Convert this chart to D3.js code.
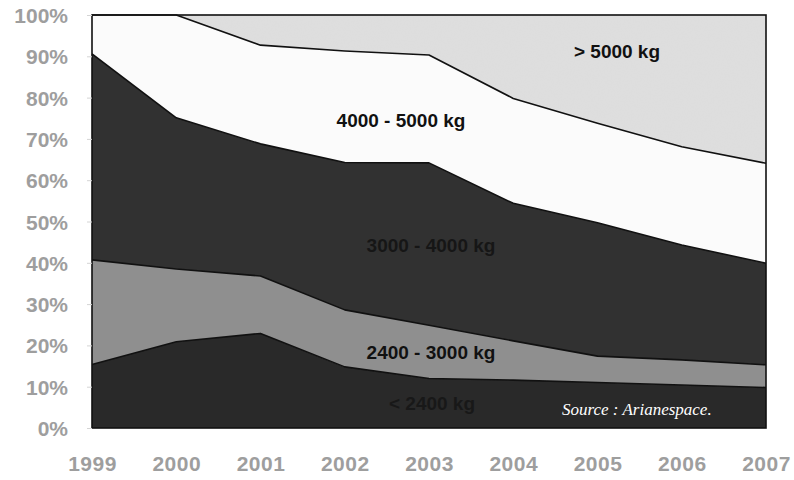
<!DOCTYPE html>
<html>
<head>
<meta charset="utf-8">
<script src="https://cdn.jsdelivr.net/npm/d3@7"></script>
<style>
  html, body { margin: 0; padding: 0; background: #fff; }
  svg { display: block; }
</style>
</head>
<body>
<svg id="chart" width="794" height="480"></svg>
<script>
// Yearly share (%) of launched satellite mass classes
const years = [1999, 2000, 2001, 2002, 2003, 2004, 2005, 2006, 2007];
const classNames = ["< 2400 kg", "2400 - 3000 kg", "3000 - 4000 kg", "4000 - 5000 kg", "> 5000 kg"];
const under2400   = [15.4, 20.9, 22.9, 14.8, 12.0, 11.6, 11.0, 10.4, 9.8];
const from2400    = [25.3, 17.6, 13.9, 13.8, 12.9, 9.5, 6.4, 6.1, 5.5];
const from3000    = [49.9, 36.6, 32.0, 35.7, 39.3, 33.3, 32.3, 27.8, 24.6];
const from4000    = [9.4, 24.9, 23.9, 27.0, 26.1, 25.4, 24.1, 23.8, 24.2];
const over5000    = [0.0, 0.0, 7.3, 8.7, 9.7, 20.2, 26.2, 31.9, 35.9];
const yTicks = [0, 10, 20, 30, 40, 50, 60, 70, 80, 90, 100];
const sourceNote = "Source : Arianespace.";

const seriesValues = [under2400, from2400, from3000, from4000, over5000];
const rows = years.map((yr, i) => {
  const r = { year: yr };
  classNames.forEach((c, k) => { r[c] = seriesValues[k][i]; });
  return r;
});

const svg = d3.select("#chart");
const margin = { left: 92, right: 28, top: 15, bottom: 52 };
const W = 794, H = 480;

const x = d3.scalePoint().domain(years).range([margin.left, W - margin.right]);
const y = d3.scaleLinear().domain([0, 100]).range([H - margin.bottom, margin.top]);

const stack = d3.stack().keys(classNames);
const layers = stack(rows);

const fills = ["#292929", "#8f8f8f", "#313131", "#fbfbfb", "#dedede"];

// printed grain for the top band
const defs = svg.append("defs");
const grain = defs.append("filter").attr("id", "grain").attr("x", 0).attr("y", 0).attr("width", 1).attr("height", 1);
grain.append("feTurbulence").attr("type", "fractalNoise").attr("baseFrequency", 0.7).attr("numOctaves", 2).attr("seed", 4).attr("result", "noise");
grain.append("feColorMatrix").attr("in", "noise").attr("type", "matrix")
  .attr("values", "0 0 0 0 0.72  0 0 0 0 0.72  0 0 0 0 0.72  0 0 0 -2.2 1.05").attr("result", "speck");
grain.append("feComposite").attr("in", "speck").attr("in2", "SourceGraphic").attr("operator", "in").attr("result", "specks");
grain.append("feMerge").call(m => { m.append("feMergeNode").attr("in", "SourceGraphic"); m.append("feMergeNode").attr("in", "specks"); });

const area = d3.area()
  .x(d => x(d.data.year))
  .y0(d => y(d[0]))
  .y1(d => y(d[1]));

svg.append("g").selectAll("path")
  .data(layers)
  .join("path")
  .attr("d", area)
  .attr("fill", (d, i) => fills[i])
  .attr("filter", (d, i) => i === 4 ? "url(#grain)" : null);

// boundary lines between classes
const topLine = d3.line().x(d => x(d.data.year)).y(d => y(d[1]));
svg.append("g").selectAll("path")
  .data(layers.slice(0, 4))
  .join("path")
  .attr("d", topLine)
  .attr("fill", "none")
  .attr("stroke", "#111")
  .attr("stroke-width", 1.6)
  .attr("stroke-linejoin", "round");

// frame
svg.append("rect")
  .attr("x", x(years[0])).attr("y", y(100))
  .attr("width", x(years[years.length - 1]) - x(years[0]))
  .attr("height", y(0) - y(100))
  .attr("fill", "none").attr("stroke", "#111").attr("stroke-width", 1.6);

// y axis
const yAxis = d3.axisLeft(y).tickValues(yTicks).tickFormat(d => d + "%").tickSize(5).tickPadding(19);
const gy = svg.append("g").attr("transform", `translate(${margin.left},0)`).call(yAxis);
gy.select(".domain").remove();
gy.selectAll(".tick line").attr("stroke", "#d4d4d4");
gy.selectAll(".tick text")
  .attr("fill", "#9e9e9e")
  .style("font-family", "'Liberation Sans', Arial, sans-serif")
  .style("font-size", "21px")
  .style("font-weight", "bold")
  .attr("dy", "0.36em");

// x axis
const xAxis = d3.axisBottom(x).tickSize(0).tickPadding(28);
const gx = svg.append("g").attr("transform", `translate(0,${H - margin.bottom})`).call(xAxis);
gx.select(".domain").remove();
gx.selectAll(".tick text")
  .attr("fill", "#9e9e9e")
  .style("font-family", "'Liberation Sans', Arial, sans-serif")
  .style("font-size", "21px")
  .style("font-weight", "bold")
  .style("letter-spacing", "0.5px");

// class labels
const labelSpecs = [
  { name: "> 5000 kg", cx: 617, base: 58, color: "#111" },
  { name: "4000 - 5000 kg", cx: 401, base: 127, color: "#111" },
  { name: "3000 - 4000 kg", cx: 431, base: 252, color: "#161616" },
  { name: "2400 - 3000 kg", cx: 431, base: 359, color: "#111" },
  { name: "< 2400 kg", cx: 432, base: 410, color: "#181818" }
];
svg.append("g").selectAll("text")
  .data(labelSpecs)
  .join("text")
  .attr("x", d => d.cx).attr("y", d => d.base)
  .attr("text-anchor", "middle")
  .attr("fill", d => d.color)
  .style("font-family", "'Liberation Sans', Arial, sans-serif")
  .style("font-size", "19px")
  .style("font-weight", "bold")
  .text(d => d.name);

svg.append("text")
  .attr("x", 562).attr("y", 415)
  .attr("fill", "#fff")
  .style("font-family", "'Liberation Serif', 'Times New Roman', serif")
  .style("font-style", "italic")
  .style("font-size", "17px")
  .text(sourceNote);
</script>
</body>
</html>
